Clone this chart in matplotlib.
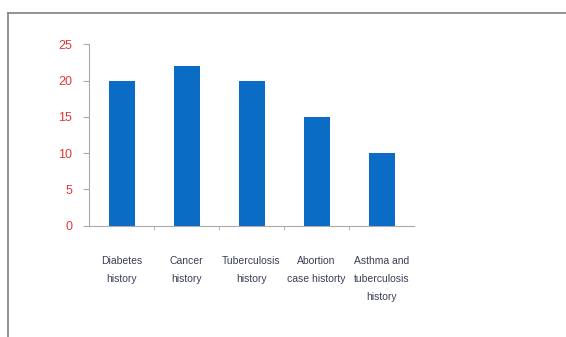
import matplotlib
matplotlib.use("Agg")
import matplotlib.pyplot as plt
from matplotlib.lines import Line2D

categories = ["Diabetes\nhistory", "Cancer\nhistory", "Tuberculosis\nhistory",
              "Abortion\ncase historty", "Asthma and\ntuberculosis\nhistory"]
values = [20, 22, 20, 15, 10]
yticks = [0, 5, 10, 15, 20, 25]

plt.rcParams['font.family'] = ['Liberation Sans Narrow', 'Liberation Sans', 'DejaVu Sans']

fig = plt.figure(figsize=(5.66, 3.37), dpi=100)
fig.patch.set_facecolor('white')
ax = fig.add_axes([89/566, 1-225.7/337, 325/566, (225.7-44.3)/337])

x = list(range(len(values)))
ax.bar(x, values, width=0.4, color='#0a6cc4')
ax.set_xlim(-0.5, len(values)-0.5)
ax.set_ylim(0, 25)
ax.set_yticks(yticks)
ax.set_yticklabels([str(v) for v in yticks], color='#e03838', fontsize=9)

ax.set_xticks(x)
ax.set_xticklabels(categories, fontsize=7.5, color='#3a3f55', va='top', linespacing=2.0)
ax.tick_params(axis='x', length=0, pad=22)
ax.set_xticks([i + 0.5 for i in range(len(values) - 1)], minor=True)
ax.tick_params(axis='x', which='minor', length=3, color='#aaaaaa', direction='out')
ax.tick_params(axis='y', length=4, color='#aaaaaa', pad=8)

for s in ['top', 'right']:
    ax.spines[s].set_visible(False)
for s in ['left', 'bottom']:
    ax.spines[s].set_color('#aaaaaa')
    ax.spines[s].set_linewidth(0.8)

# outer frame lines
fig.add_artist(Line2D([8/566, 1], [1-13/337, 1-13/337], transform=fig.transFigure, color='#808080', lw=1.2))
fig.add_artist(Line2D([8/566, 8/566], [0, 1-13/337], transform=fig.transFigure, color='#808080', lw=1.2))

fig.savefig("out.png", dpi=100)
